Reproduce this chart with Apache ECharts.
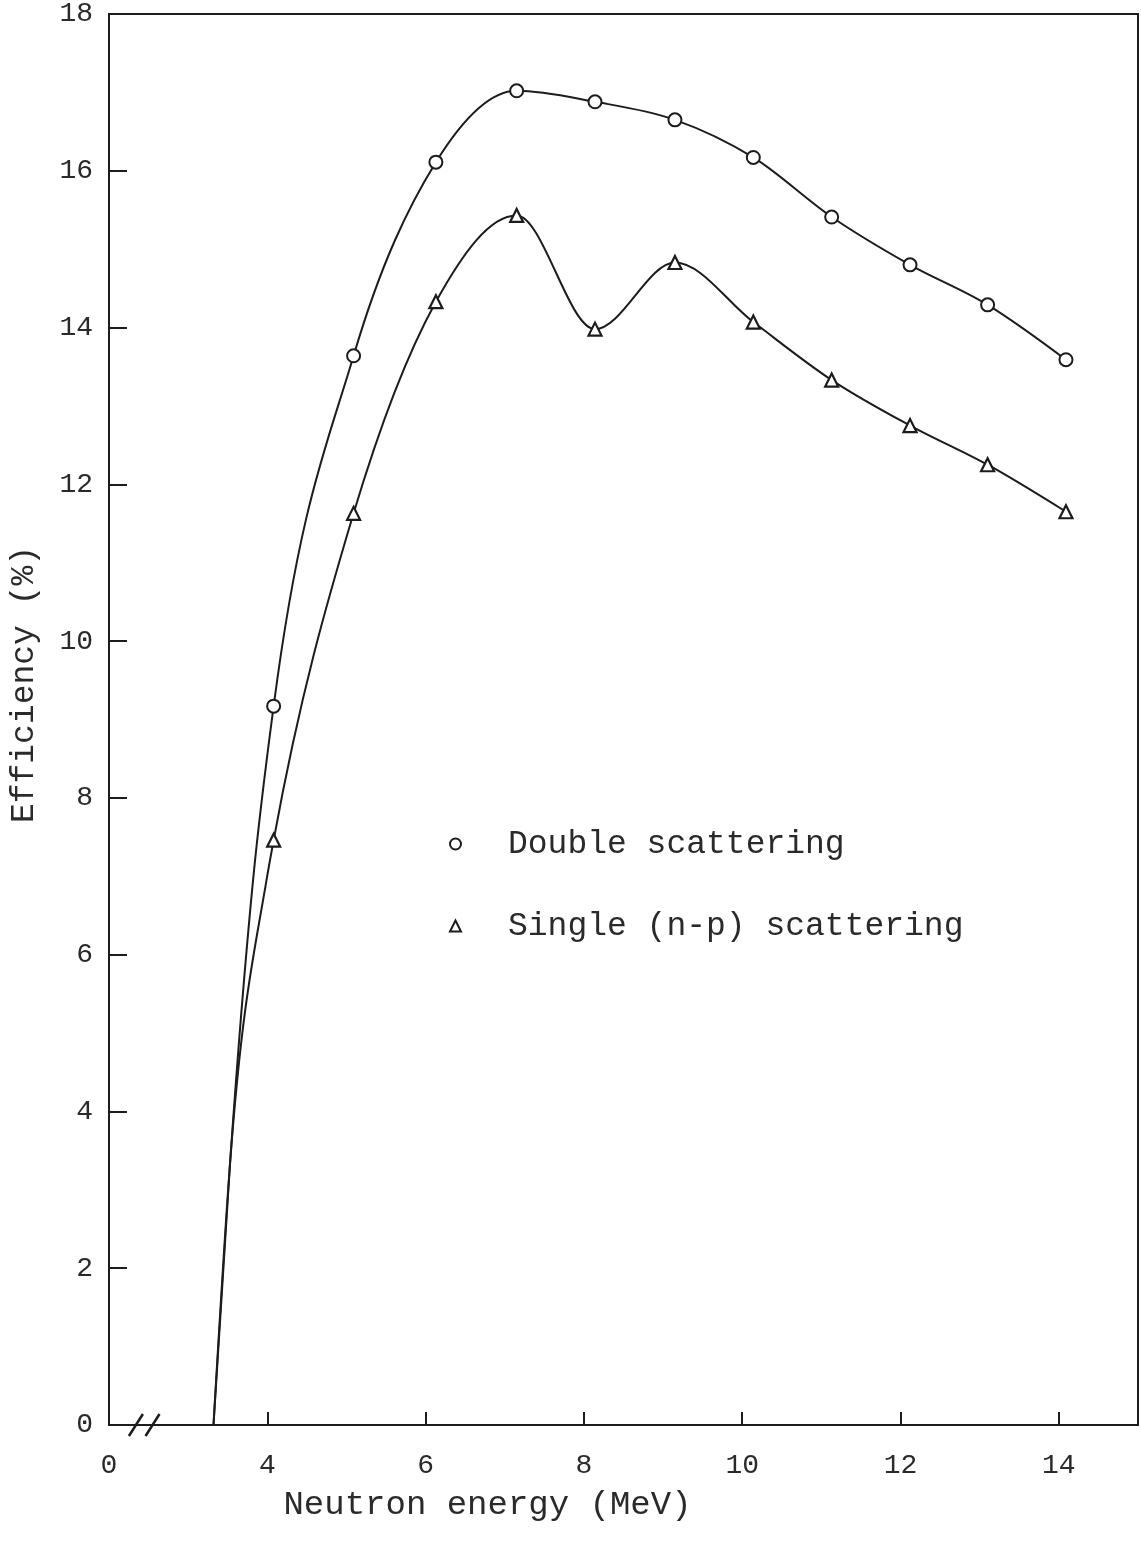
<!DOCTYPE html>
<html>
<head>
<meta charset="utf-8">
<script src="https://cdn.jsdelivr.net/npm/echarts@6/dist/echarts.min.js"></script>
<style>
  html, body { margin: 0; padding: 0; background: #fff; }
  #chart { width: 1141px; height: 1552px; }
</style>
</head>
<body>
<div id="chart"></div>
<script>
// Measured data points (neutron energy in MeV, efficiency in %)
const energy    = [4.08, 5.09, 6.13, 7.15, 8.14, 9.15, 10.14, 11.13, 12.12, 13.10, 14.09];
const doubleEff = [9.17, 13.64, 16.11, 17.02, 16.88, 16.65, 16.17, 15.41, 14.80, 14.29, 13.59];
const singleEff = [7.46, 11.63, 14.33, 15.43, 13.98, 14.83, 14.07, 13.33, 12.75, 12.25, 11.65];

const leadX       = [3.32, 3.53];
const leadY       = [0, 3.35];
const doubleLeadX = [3.82];
const doubleLeadY = [6.95];
const singleLeadX = [3.99];
const singleLeadY = [6.95];

// Axis tick labels (the broken x axis shows "0" at its left end)
const xTickValues = [2, 4, 6, 8, 10, 12, 14];
const xTickLabels = ['0', '4', '6', '8', '10', '12', '14'];
const yTickLabels = ['0', '2', '4', '6', '8', '10', '12', '14', '16', '18'];

const names = ['Double scattering', 'Single (n-p) scattering'];

function pairs(xs, ys) { return xs.map((x, i) => [x, ys[i]]); }

const doubleCurve = pairs(leadX, leadY).concat(pairs(doubleLeadX, doubleLeadY), pairs(energy, doubleEff));
const singleCurve = pairs(leadX, leadY).concat(pairs(singleLeadX, singleLeadY), pairs(energy, singleEff));

const FONT = '"Liberation Mono", "DejaVu Sans Mono", monospace';
const INK = '#1c1c1c';
const TXT = '#2a2a2a';

// Smooth monotone-in-x cubic through pixel points (computed from the axes via api.coord)
function monotonePathData(pts) {
  const n = pts.length;
  const s = [];
  for (let i = 0; i < n - 1; i++) {
    s.push((pts[i + 1][1] - pts[i][1]) / (pts[i + 1][0] - pts[i][0]));
  }
  const m = new Array(n);
  for (let i = 1; i < n - 1; i++) {
    const h0 = pts[i][0] - pts[i - 1][0];
    const h1 = pts[i + 1][0] - pts[i][0];
    const s0 = s[i - 1], s1 = s[i];
    const p = (s0 * h1 + s1 * h0) / (h0 + h1);
    m[i] = (Math.sign(s0) + Math.sign(s1)) * Math.min(Math.abs(s0), Math.abs(s1), 0.5 * Math.abs(p)) || 0;
  }
  m[0] = (3 * s[0] - m[1]) / 2;
  m[n - 1] = (3 * s[n - 2] - m[n - 2]) / 2;
  let d = 'M' + pts[0][0] + ',' + pts[0][1];
  for (let i = 0; i < n - 1; i++) {
    const x0 = pts[i][0], y0 = pts[i][1], x1 = pts[i + 1][0], y1 = pts[i + 1][1];
    const dx = (x1 - x0) / 3;
    d += ' C' + (x0 + dx) + ',' + (y0 + dx * m[i]) + ' ' + (x1 - dx) + ',' + (y1 - dx * m[i + 1]) + ' ' + x1 + ',' + y1;
  }
  return d;
}

function curveSeries(id, curve) {
  return {
    id: id, name: id, type: 'custom', coordinateSystem: 'cartesian2d',
    data: [curve[0]], silent: true, z: 2, clip: true,
    renderItem: function (params, api) {
      const pts = curve.map(p => api.coord(p));
      return {
        type: 'path',
        shape: { pathData: monotonePathData(pts) },
        style: { fill: 'none', stroke: INK, lineWidth: 2 }
      };
    }
  };
}

const chart = echarts.init(document.getElementById('chart'), null, { renderer: 'canvas' });

chart.setOption({
  backgroundColor: '#ffffff',
  animation: false,
  grid: {
    left: 107, right: 3, top: 12, bottom: 127,
    show: true, borderColor: INK, borderWidth: 2, backgroundColor: 'transparent'
  },
  legend: {
    data: [
      { name: names[0], icon: 'circle' },
      { name: names[1], icon: 'triangle' }
    ],
    orient: 'vertical',
    left: 444, top: 820,
    itemWidth: 11, itemHeight: 11,
    itemGap: 44,
    selectedMode: false,
    textStyle: { fontFamily: FONT, fontSize: 33, color: TXT, padding: [0, 0, 0, 42], lineHeight: 38 }
  },
  xAxis: {
    type: 'value',
    min: 2, max: 15, interval: 2,
    name: 'Neutron energy (MeV)',
    nameLocation: 'middle',
    nameGap: 63,
    nameTextStyle: { fontFamily: FONT, fontSize: 34, color: TXT, padding: [0, 272, 0, 0] },
    axisLine: { show: true, onZero: false, lineStyle: { color: INK, width: 2 } },
    axisTick: {
      show: true, inside: true, length: 13, lineStyle: { color: INK, width: 2 },
      customValues: xTickValues.slice(1)
    },
    axisLabel: {
      fontFamily: FONT, fontSize: 28, color: TXT, margin: 27,
      customValues: xTickValues,
      formatter: function (v) {
        const i = xTickValues.indexOf(v);
        return i >= 0 ? xTickLabels[i] : '';
      }
    },
    splitLine: { show: false }
  },
  yAxis: {
    type: 'value',
    min: 0, max: 18, interval: 2,
    name: 'Efficiency (%)',
    nameLocation: 'middle',
    nameGap: 68,
    nameRotate: 90,
    nameTextStyle: { fontFamily: FONT, fontSize: 33, color: TXT, padding: [0, 0, 0, 70] },
    axisLine: { show: true, lineStyle: { color: INK, width: 2 } },
    axisTick: { show: true, inside: true, length: 18, lineStyle: { color: INK, width: 2 } },
    axisLabel: {
      fontFamily: FONT, fontSize: 28, color: TXT, margin: 16,
      formatter: function (v) { return yTickLabels[Math.round(v / 2)] || ''; }
    },
    splitLine: { show: false }
  },
  series: [
    curveSeries('double-curve', doubleCurve),
    curveSeries('single-curve', singleCurve),
    {
      name: names[0], type: 'scatter', data: pairs(energy, doubleEff),
      symbol: 'circle', symbolSize: 13,
      itemStyle: { color: '#ffffff', borderColor: INK, borderWidth: 2, opacity: 1 },
      z: 5
    },
    {
      name: names[1], type: 'scatter', data: pairs(energy, singleEff),
      symbol: 'triangle', symbolSize: 13,
      itemStyle: { color: '#ffffff', borderColor: INK, borderWidth: 2.2, opacity: 1 },
      z: 5
    }
  ]
});

// Axis-break marks "//" near the left end of the x axis
function breakMark(xVal) {
  const p = chart.convertToPixel({ gridIndex: 0 }, [xVal, 0]);
  return {
    type: 'line',
    shape: { x1: p[0] - 7, y1: p[1] + 11, x2: p[0] + 7, y2: p[1] - 11 },
    style: { stroke: INK, lineWidth: 2.5 },
    z: 100
  };
}
chart.setOption({ graphic: [breakMark(2.34), breakMark(2.55)] });
</script>
</body>
</html>
